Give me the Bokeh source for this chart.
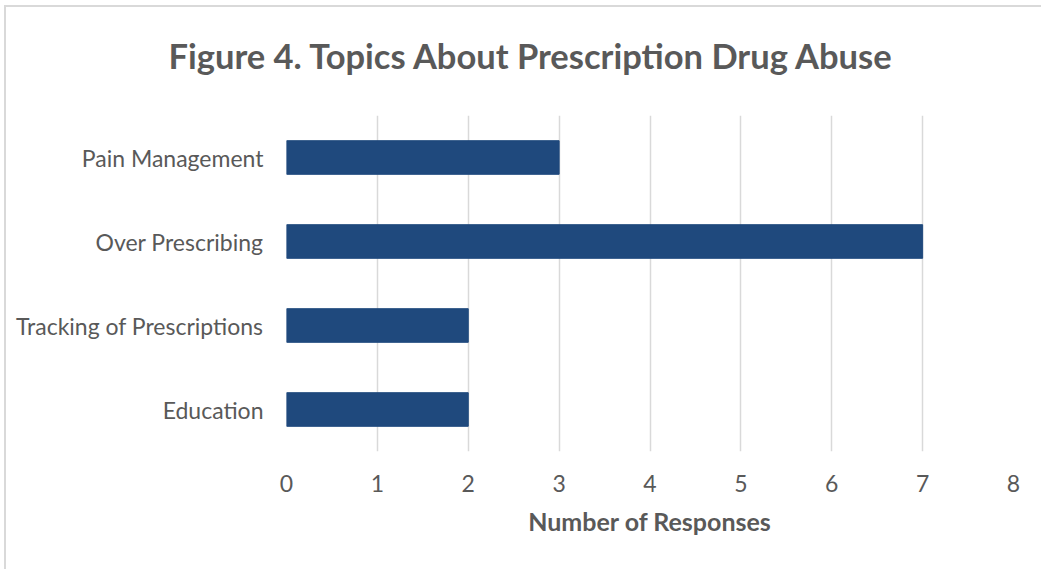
from bokeh.plotting import figure
from bokeh.models import Range1d, FactorRange, FixedTicker, Title
from bokeh.embed import file_html
from bokeh.resources import INLINE

categories = ["Pain Management", "Over Prescribing", "Tracking of Prescriptions", "Education"]
responses = [3, 7, 2, 2]
x_ticks = [0, 1, 2, 3, 4, 5, 6, 7, 8]
title_text = "Figure 4. Topics About Prescription Drug Abuse"

FONT = "Lato"
TXT = "#595959"

factors = list(reversed(categories))
p = figure(width=1037, height=564, y_range=FactorRange(factors=factors, range_padding=0),
           x_range=Range1d(0, 8), output_backend="svg", toolbar_location=None,
           min_border_left=280, min_border_right=30, min_border_top=108, min_border_bottom=120)
p.title = None
p.styles = {"margin-left": "4px", "margin-top": "5px",
            "border-left": "2px solid #d9d9d9", "border-top": "2px solid #d9d9d9"}

p.hbar(y=categories, right=responses, left=0, height=0.4, color="#1F497D")

spacer = Title(text=" ", text_font_size="1px", standoff=32)
main_title = Title(text=title_text, text_font=FONT, text_font_size="34.5px",
                   text_font_style="bold", text_color=TXT, align="left",
                   offset=-118, standoff=10)
p.add_layout(spacer, "above")
p.add_layout(main_title, "above")

p.outline_line_color = None
p.ygrid.grid_line_color = None
p.xgrid.grid_line_color = "#d9d9d9"
p.xgrid.grid_line_width = 1.5
p.xaxis.ticker = FixedTicker(ticks=x_ticks)

for ax in (p.xaxis, p.yaxis):
    ax.axis_line_color = None
    ax.major_tick_line_color = None
    ax.minor_tick_line_color = None
    ax.major_tick_out = 0
    ax.major_tick_in = 0
    ax.major_label_text_font = FONT
    ax.major_label_text_color = TXT
    ax.major_label_text_font_size = "23px"

p.yaxis.major_label_standoff = 23
p.xaxis.major_label_standoff = 23
p.xaxis.axis_label = "Number of Responses"
p.xaxis.axis_label_text_font = FONT
p.xaxis.axis_label_text_font_style = "bold"
p.xaxis.axis_label_text_font_size = "25px"
p.xaxis.axis_label_text_color = TXT
p.xaxis.axis_label_standoff = 11

open("out.html", "w").write(file_html(p, INLINE))
